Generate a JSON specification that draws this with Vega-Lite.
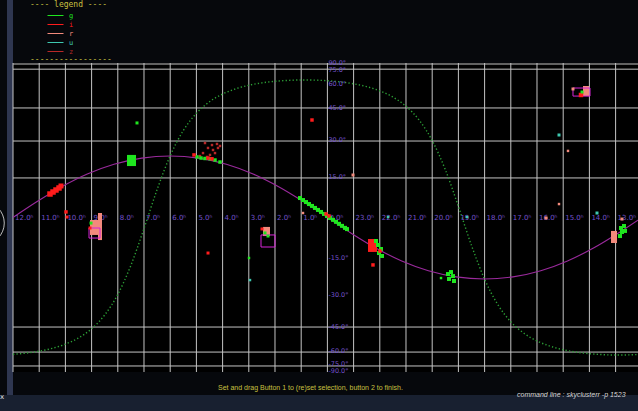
{
  "$schema": "https://vega.github.io/schema/vega-lite/v6.json",
  "width": 625,
  "height": 309,
  "autosize": {"type": "none"},
  "padding": {"left": 13, "top": 63, "right": 0, "bottom": 39},
  "background": "#06080c",
  "config": {
    "view": {"stroke": null, "fill": "#000000"},
    "legend": {
      "orient": "none", "legendX": 17, "legendY": -62,
      "titleFont": "DejaVu Sans Mono", "titleFontSize": 8, "titleColor": "#c8c040",
      "titleFontWeight": "normal", "titlePadding": 3, "padding": 0,
      "symbolType": "M-4,-0.25H4V0.25H-4Z", "symbolSize": 16, "symbolOffset": 22, "symbolStrokeWidth": 0, "symbolOpacity": 1,
      "labelOffset": 10, "labelFont": "DejaVu Sans Mono", "labelFontSize": 7, "rowPadding": 1
    }
  },
  "datasets": {
    "ecliptic": [
      {"ra": 12, "s": 0}, {"ra": 11.079, "s": 0.103}, {"ra": 10.139, "s": 0.1989}, {"ra": 9.164, "s": 0.2813},
      {"ra": 8.145, "s": 0.3445}, {"ra": 7.085, "s": 0.3842}, {"ra": 6, "s": 0.3978}, {"ra": 4.915, "s": 0.3842},
      {"ra": 3.855, "s": 0.3445}, {"ra": 2.836, "s": 0.2813}, {"ra": 1.861, "s": 0.1989}, {"ra": 0.921, "s": 0.103},
      {"ra": 0, "s": 0}, {"ra": -0.921, "s": -0.103}, {"ra": -1.861, "s": -0.1989}, {"ra": -2.836, "s": -0.2813},
      {"ra": -3.855, "s": -0.3445}, {"ra": -4.915, "s": -0.3842}, {"ra": -6, "s": -0.3978}, {"ra": -7.085, "s": -0.3842},
      {"ra": -8.145, "s": -0.3445}, {"ra": -9.164, "s": -0.2813}, {"ra": -10.139, "s": -0.1989}, {"ra": -11.079, "s": -0.103},
      {"ra": -12, "s": 0}
    ],
    "galactic": [
      {"ra": 12, "s": -0.8853}, {"ra": 11.5, "s": -0.8776}, {"ra": 11, "s": -0.8653}, {"ra": 10.5, "s": -0.8468},
      {"ra": 10, "s": -0.8196}, {"ra": 9.5, "s": -0.7796}, {"ra": 9, "s": -0.7201}, {"ra": 8.5, "s": -0.6308},
      {"ra": 8, "s": -0.498}, {"ra": 7.5, "s": -0.3097}, {"ra": 7, "s": -0.0713}, {"ra": 6.5, "s": 0.1808},
      {"ra": 6, "s": 0.3997}, {"ra": 5.5, "s": 0.5627}, {"ra": 5, "s": 0.6746}, {"ra": 4.5, "s": 0.7493},
      {"ra": 4, "s": 0.7992}, {"ra": 3.5, "s": 0.8329}, {"ra": 3, "s": 0.8558}, {"ra": 2.5, "s": 0.8713},
      {"ra": 2, "s": 0.8815}, {"ra": 1.5, "s": 0.8875}, {"ra": 1, "s": 0.89}, {"ra": 0.5, "s": 0.8893},
      {"ra": 0, "s": 0.8851}, {"ra": -0.5, "s": 0.8776}, {"ra": -1, "s": 0.8653}, {"ra": -1.5, "s": 0.8468},
      {"ra": -2, "s": 0.8196}, {"ra": -2.5, "s": 0.7796}, {"ra": -3, "s": 0.7201}, {"ra": -3.5, "s": 0.6308},
      {"ra": -4, "s": 0.498}, {"ra": -4.5, "s": 0.3097}, {"ra": -5, "s": 0.0713}, {"ra": -5.5, "s": -0.1808},
      {"ra": -6, "s": -0.3997}, {"ra": -6.5, "s": -0.5627}, {"ra": -7, "s": -0.6746}, {"ra": -7.5, "s": -0.7493},
      {"ra": -8, "s": -0.7992}, {"ra": -8.5, "s": -0.8329}, {"ra": -9, "s": -0.8558}, {"ra": -9.5, "s": -0.8713},
      {"ra": -10, "s": -0.8815}, {"ra": -10.5, "s": -0.8875}, {"ra": -11, "s": -0.89}, {"ra": -11.5, "s": -0.8893},
      {"ra": -12, "s": -0.8851}
    ],
    "ragrid": [
      {"ra": 12}, {"ra": 11}, {"ra": 10}, {"ra": 9}, {"ra": 8}, {"ra": 7}, {"ra": 6}, {"ra": 5}, {"ra": 4}, {"ra": 3}, {"ra": 2}, {"ra": 1},
      {"ra": 0}, {"ra": -1}, {"ra": -2}, {"ra": -3}, {"ra": -4}, {"ra": -5}, {"ra": -6}, {"ra": -7}, {"ra": -8}, {"ra": -9}, {"ra": -10}, {"ra": -11}
    ],
    "decgrid": [
      {"s": 0.9935}, {"s": 0.96}, {"s": 0.709}, {"s": 0.495}, {"s": 0.256}, {"s": -0.709}, {"s": -0.871}, {"s": -0.961}
    ],
    "ralabels": [
      {"ra": 12, "s": 0, "label": "12.0ʰ"}, {"ra": 11, "s": 0, "label": "11.0ʰ"}, {"ra": 10, "s": 0, "label": "10.0ʰ"},
      {"ra": 9, "s": 0, "label": "9.0ʰ"}, {"ra": 8, "s": 0, "label": "8.0ʰ"}, {"ra": 7, "s": 0, "label": "7.0ʰ"},
      {"ra": 6, "s": 0, "label": "6.0ʰ"}, {"ra": 5, "s": 0, "label": "5.0ʰ"}, {"ra": 4, "s": 0, "label": "4.0ʰ"},
      {"ra": 3, "s": 0, "label": "3.0ʰ"}, {"ra": 2, "s": 0, "label": "2.0ʰ"}, {"ra": 1, "s": 0, "label": "1.0ʰ"},
      {"ra": -1, "s": 0, "label": "23.0ʰ"}, {"ra": -2, "s": 0, "label": "22.0ʰ"}, {"ra": -3, "s": 0, "label": "21.0ʰ"},
      {"ra": -4, "s": 0, "label": "20.0ʰ"}, {"ra": -5, "s": 0, "label": "19.0ʰ"}, {"ra": -6, "s": 0, "label": "18.0ʰ"},
      {"ra": -7, "s": 0, "label": "17.0ʰ"}, {"ra": -8, "s": 0, "label": "16.0ʰ"}, {"ra": -9, "s": 0, "label": "15.0ʰ"},
      {"ra": -10, "s": 0, "label": "14.0ʰ"}, {"ra": -11, "s": 0, "label": "13.0ʰ"}, {"ra": 0, "s": 0, "label": "0.0ʰ"}
    ],
    "declabels": [
      {"ra": 0, "s": 1.0, "label": "90.0°"}, {"ra": 0, "s": 0.957, "label": "75.0°"}, {"ra": 0, "s": 0.866, "label": "60.0°"},
      {"ra": 0, "s": 0.707, "label": "45.0°"}, {"ra": 0, "s": 0.5, "label": "30.0°"}, {"ra": 0, "s": 0.259, "label": "15.0°"},
      {"ra": 0, "s": -0.259, "label": "-15.0°"}, {"ra": 0, "s": -0.5, "label": "-30.0°"}, {"ra": 0, "s": -0.707, "label": "-45.0°"},
      {"ra": 0, "s": -0.866, "label": "-60.0°"}, {"ra": 0, "s": -0.948, "label": "-75.0°"}, {"ra": 0, "s": -0.995, "label": "-90.0°"}
    ],
    "regions": [
      {"ra": 9.061, "ra2": 8.756, "s": -0.016, "s2": -0.113, "band": "r"},
      {"ra": 8.756, "ra2": 8.603, "s": 0.029, "s2": -0.146, "band": "r"},
      {"ra": 7.649, "ra2": 7.305, "s": 0.405, "s2": 0.333, "band": "g"},
      {"ra": -1.55, "ra2": -1.893, "s": -0.139, "s2": -0.223, "band": "i"},
      {"ra": 2.458, "ra2": 2.191, "s": -0.061, "s2": -0.12, "band": "r"},
      {"ra": -9.756, "ra2": -9.985, "s": 0.851, "s2": 0.786, "band": "r"},
      {"ra": -10.824, "ra2": -11.053, "s": -0.087, "s2": -0.165, "band": "r"}
    ],
    "selections": [
      {"ra": 9.099, "ra2": 8.679, "s": -0.068, "s2": -0.133},
      {"ra": 2.534, "ra2": 2.0, "s": -0.113, "s2": -0.191},
      {"ra": -9.374, "ra2": -10.023, "s": 0.838, "s2": 0.786}
    ],
    "objects": [
      {"ra": 10.588, "s": 0.152, "band": "i", "n": 30}, {"ra": 10.473, "s": 0.165, "band": "i", "n": 30},
      {"ra": 10.359, "s": 0.178, "band": "i", "n": 30}, {"ra": 10.244, "s": 0.191, "band": "i", "n": 30},
      {"ra": 10.168, "s": 0.204, "band": "i", "n": 25},
      {"ra": 9.977, "s": 0.036, "band": "i", "n": 12}, {"ra": 9.939, "s": 0.003, "band": "i", "n": 9},
      {"ra": 9.023, "s": -0.036, "band": "g", "n": 9}, {"ra": 9.061, "s": -0.068, "band": "i", "n": 9},
      {"ra": 8.679, "s": 0.016, "band": "r", "n": 9},
      {"ra": 7.267, "s": 0.612, "band": "g", "n": 9},
      {"ra": 4.672, "s": 0.482, "band": "z", "n": 6}, {"ra": 4.405, "s": 0.469, "band": "z", "n": 6},
      {"ra": 4.214, "s": 0.476, "band": "z", "n": 6}, {"ra": 4.557, "s": 0.45, "band": "z", "n": 6},
      {"ra": 4.366, "s": 0.437, "band": "z", "n": 6}, {"ra": 4.176, "s": 0.45, "band": "z", "n": 6},
      {"ra": 4.748, "s": 0.417, "band": "z", "n": 6}, {"ra": 4.481, "s": 0.405, "band": "z", "n": 6},
      {"ra": 4.29, "s": 0.417, "band": "z", "n": 6}, {"ra": 4.595, "s": 0.392, "band": "z", "n": 6},
      {"ra": 4.863, "s": 0.398, "band": "z", "n": 6}, {"ra": 4.099, "s": 0.463, "band": "z", "n": 6},
      {"ra": 4.977, "s": 0.392, "band": "g", "n": 12}, {"ra": 4.824, "s": 0.385, "band": "g", "n": 12},
      {"ra": 4.672, "s": 0.382, "band": "g", "n": 12}, {"ra": 4.481, "s": 0.38, "band": "g", "n": 12},
      {"ra": 4.29, "s": 0.372, "band": "g", "n": 12}, {"ra": 4.099, "s": 0.359, "band": "g", "n": 12},
      {"ra": 5.092, "s": 0.405, "band": "i", "n": 12}, {"ra": 4.557, "s": 0.385, "band": "i", "n": 12},
      {"ra": 4.405, "s": 0.38, "band": "i", "n": 12},
      {"ra": 0.588, "s": 0.631, "band": "i", "n": 12},
      {"ra": -0.977, "s": 0.275, "band": "r", "n": 9},
      {"ra": 1.046, "s": 0.126, "band": "g", "n": 16}, {"ra": 0.931, "s": 0.113, "band": "g", "n": 16},
      {"ra": 0.817, "s": 0.1, "band": "g", "n": 16}, {"ra": 0.702, "s": 0.087, "band": "g", "n": 16},
      {"ra": 0.588, "s": 0.075, "band": "g", "n": 16}, {"ra": 0.473, "s": 0.062, "band": "g", "n": 16},
      {"ra": 0.359, "s": 0.049, "band": "g", "n": 16}, {"ra": 0.244, "s": 0.036, "band": "g", "n": 16},
      {"ra": 0.13, "s": 0.023, "band": "g", "n": 16}, {"ra": 0.015, "s": 0.01, "band": "g", "n": 16},
      {"ra": -0.099, "s": -0.003, "band": "g", "n": 16}, {"ra": -0.214, "s": -0.015, "band": "g", "n": 16},
      {"ra": -0.328, "s": -0.028, "band": "g", "n": 16}, {"ra": -0.443, "s": -0.041, "band": "g", "n": 16},
      {"ra": -0.557, "s": -0.054, "band": "g", "n": 16}, {"ra": -0.672, "s": -0.067, "band": "g", "n": 16},
      {"ra": -0.748, "s": -0.075, "band": "g", "n": 16},
      {"ra": 0.053, "s": 0.023, "band": "i", "n": 12}, {"ra": -0.061, "s": 0.01, "band": "i", "n": 12},
      {"ra": 0.931, "s": 0.029, "band": "r", "n": 6},
      {"ra": -1.931, "s": -0.178, "band": "g", "n": 16}, {"ra": -2.046, "s": -0.204, "band": "g", "n": 16},
      {"ra": -1.969, "s": -0.23, "band": "g", "n": 16}, {"ra": -2.084, "s": -0.249, "band": "g", "n": 16},
      {"ra": -1.855, "s": -0.152, "band": "g", "n": 16}, {"ra": -2.008, "s": -0.217, "band": "i", "n": 12},
      {"ra": -1.74, "s": -0.307, "band": "i", "n": 12},
      {"ra": -4.603, "s": -0.366, "band": "g", "n": 16}, {"ra": -4.718, "s": -0.353, "band": "g", "n": 16},
      {"ra": -4.794, "s": -0.379, "band": "g", "n": 16}, {"ra": -4.641, "s": -0.398, "band": "g", "n": 16},
      {"ra": -4.832, "s": -0.411, "band": "g", "n": 16}, {"ra": -4.336, "s": -0.392, "band": "g", "n": 6},
      {"ra": 2.496, "s": -0.074, "band": "i", "n": 9}, {"ra": 2.382, "s": -0.1, "band": "g", "n": 9},
      {"ra": 2.267, "s": -0.12, "band": "g", "n": 9},
      {"ra": 4.557, "s": -0.23, "band": "i", "n": 9}, {"ra": 2.992, "s": -0.262, "band": "g", "n": 6},
      {"ra": 2.954, "s": -0.405, "band": "u", "n": 6},
      {"ra": -9.374, "s": 0.832, "band": "r", "n": 9}, {"ra": -9.679, "s": 0.793, "band": "i", "n": 20},
      {"ra": -9.718, "s": 0.812, "band": "g", "n": 9}, {"ra": -8.84, "s": 0.534, "band": "u", "n": 9},
      {"ra": -9.183, "s": 0.431, "band": "r", "n": 6}, {"ra": -8.84, "s": 0.087, "band": "r", "n": 6},
      {"ra": -10.29, "s": 0.029, "band": "u", "n": 9}, {"ra": -8.344, "s": -0.003, "band": "r", "n": 9},
      {"ra": -11.244, "s": -0.01, "band": "r", "n": 9}, {"ra": -2.313, "s": 0.003, "band": "u", "n": 6},
      {"ra": -5.328, "s": 0.003, "band": "u", "n": 6},
      {"ra": -11.206, "s": -0.068, "band": "g", "n": 16}, {"ra": -11.321, "s": -0.055, "band": "g", "n": 16},
      {"ra": -11.244, "s": -0.094, "band": "g", "n": 16}, {"ra": -11.359, "s": -0.087, "band": "g", "n": 16},
      {"ra": -11.168, "s": -0.12, "band": "g", "n": 16}
    ]
  },
  "layer": [
    {
      "data": {"values": [{"ra": 12.23, "ra2": 12.0, "s": 1.41, "s2": -1.26}]},
      "mark": {"type": "rect", "color": "#2e3650", "clip": false},
      "encoding": {
        "x": {"field": "ra", "type": "quantitative", "scale": {"domain": [12, -11.855], "nice": false, "zero": false}, "axis": null},
        "x2": {"field": "ra2"},
        "y": {"field": "s", "type": "quantitative", "scale": {"domain": [-1, 1], "nice": false, "zero": false}, "axis": null},
        "y2": {"field": "s2"}
      }
    },
    {
      "data": {"values": [{"ra": 12.6, "ra2": -12.2, "s": -1.149, "s2": -1.27}]},
      "mark": {"type": "rect", "color": "#182030", "clip": false},
      "encoding": {
        "x": {"field": "ra", "type": "quantitative", "scale": {"domain": [12, -11.855], "nice": false, "zero": false}, "axis": null},
        "x2": {"field": "ra2"},
        "y": {"field": "s", "type": "quantitative", "scale": {"domain": [-1, 1], "nice": false, "zero": false}, "axis": null},
        "y2": {"field": "s2"}
      }
    },
    {
      "data": {"name": "ragrid"},
      "mark": {"type": "rule", "color": "#c4c4c4", "strokeWidth": 1},
      "encoding": {
        "x": {"field": "ra", "type": "quantitative", "scale": {"domain": [12, -11.855], "nice": false, "zero": false}, "axis": null}
      }
    },
    {
      "data": {"name": "decgrid"},
      "mark": {"type": "rule", "color": "#c4c4c4", "strokeWidth": 1},
      "encoding": {
        "y": {"field": "s", "type": "quantitative", "scale": {"domain": [-1, 1], "nice": false, "zero": false}, "axis": null}
      }
    },
    {
      "data": {"name": "galactic"},
      "mark": {"type": "line", "color": "#2c9e36", "strokeWidth": 1.4, "strokeDash": [1.3, 2.2], "clip": true, "interpolate": "monotone"},
      "encoding": {
        "x": {"field": "ra", "type": "quantitative", "scale": {"domain": [12, -11.855], "nice": false, "zero": false}, "axis": null},
        "y": {"field": "s", "type": "quantitative", "scale": {"domain": [-1, 1], "nice": false, "zero": false}, "axis": null}
      }
    },
    {
      "data": {"name": "ecliptic"},
      "mark": {"type": "line", "color": "#9a2a9c", "strokeWidth": 1.1, "clip": true, "interpolate": "monotone"},
      "encoding": {
        "x": {"field": "ra", "type": "quantitative", "scale": {"domain": [12, -11.855], "nice": false, "zero": false}, "axis": null},
        "y": {"field": "s", "type": "quantitative", "scale": {"domain": [-1, 1], "nice": false, "zero": false}, "axis": null}
      }
    },
    {
      "data": {"name": "ralabels"},
      "mark": {"type": "text", "align": "left", "baseline": "middle", "dx": 2, "font": "DejaVu Sans", "fontSize": 7, "color": "#7352cc"},
      "encoding": {
        "x": {"field": "ra", "type": "quantitative", "scale": {"domain": [12, -11.855], "nice": false, "zero": false}, "axis": null},
        "y": {"field": "s", "type": "quantitative", "scale": {"domain": [-1, 1], "nice": false, "zero": false}, "axis": null},
        "text": {"field": "label"}
      }
    },
    {
      "data": {"name": "declabels"},
      "mark": {"type": "text", "align": "left", "baseline": "middle", "dx": 1, "font": "DejaVu Sans", "fontSize": 6.5, "color": "#7352cc"},
      "encoding": {
        "x": {"field": "ra", "type": "quantitative", "scale": {"domain": [12, -11.855], "nice": false, "zero": false}, "axis": null},
        "y": {"field": "s", "type": "quantitative", "scale": {"domain": [-1, 1], "nice": false, "zero": false}, "axis": null},
        "text": {"field": "label"}
      }
    },
    {
      "data": {"name": "regions"},
      "mark": {"type": "rect", "opacity": 1},
      "encoding": {
        "x": {"field": "ra", "type": "quantitative", "scale": {"domain": [12, -11.855], "nice": false, "zero": false}, "axis": null},
        "x2": {"field": "ra2"},
        "y": {"field": "s", "type": "quantitative", "scale": {"domain": [-1, 1], "nice": false, "zero": false}, "axis": null},
        "y2": {"field": "s2"},
        "color": {"field": "band", "type": "nominal", "title": "---- legend ----", "scale": {"domain": ["g", "i", "r", "u", "z"], "range": ["#1fe61f", "#ff1c1c", "#f28a7c", "#3ec8b0", "#b82828"]}}
      }
    },
    {
      "data": {"name": "selections"},
      "mark": {"type": "rect", "fill": null, "fillOpacity": 0, "stroke": "#d624d6", "strokeWidth": 1},
      "encoding": {
        "x": {"field": "ra", "type": "quantitative", "scale": {"domain": [12, -11.855], "nice": false, "zero": false}, "axis": null},
        "x2": {"field": "ra2"},
        "y": {"field": "s", "type": "quantitative", "scale": {"domain": [-1, 1], "nice": false, "zero": false}, "axis": null},
        "y2": {"field": "s2"}
      }
    },
    {
      "data": {"name": "objects"},
      "mark": {"type": "point", "shape": "square", "filled": true, "opacity": 1, "strokeWidth": 0},
      "encoding": {
        "x": {"field": "ra", "type": "quantitative", "scale": {"domain": [12, -11.855], "nice": false, "zero": false}, "axis": null},
        "y": {"field": "s", "type": "quantitative", "scale": {"domain": [-1, 1], "nice": false, "zero": false}, "axis": null},
        "size": {"field": "n", "type": "quantitative", "scale": {"type": "linear", "domain": [0, 100], "range": [0, 100]}, "legend": null},
        "color": {
          "field": "band", "type": "nominal", "title": "---- legend ----",
          "scale": {"domain": ["g", "i", "r", "u", "z"], "range": ["#1fe61f", "#ff1c1c", "#f28a7c", "#3ec8b0", "#b82828"]},
          "legend": {
            "encode": {"labels": {"update": {"fill": {"scale": "color", "field": "value"}}}}
          }
        }
      }
    },
    {
      "data": {"values": [{"ra": 11.351, "s": 1.022, "label": "-----------------"}]},
      "mark": {"type": "text", "align": "left", "baseline": "middle", "font": "DejaVu Sans Mono", "fontSize": 8, "color": "#c8c040"},
      "encoding": {
        "x": {"field": "ra", "type": "quantitative", "scale": {"domain": [12, -11.855], "nice": false, "zero": false}, "axis": null},
        "y": {"field": "s", "type": "quantitative", "scale": {"domain": [-1, 1], "nice": false, "zero": false}, "axis": null},
        "text": {"field": "label"}
      }
    },
    {
      "data": {"values": [{"ra": 4.176, "s": -1.104, "label": "Set and drag Button 1 to (re)set selection, button 2 to finish."}]},
      "mark": {"type": "text", "align": "left", "baseline": "middle", "font": "Liberation Sans", "fontSize": 7, "color": "#c8c040"},
      "encoding": {
        "x": {"field": "ra", "type": "quantitative", "scale": {"domain": [12, -11.855], "nice": false, "zero": false}, "axis": null},
        "y": {"field": "s", "type": "quantitative", "scale": {"domain": [-1, 1], "nice": false, "zero": false}, "axis": null},
        "text": {"field": "label"}
      }
    },
    {
      "data": {"values": [{"ra": -7.237, "s": -1.149, "label": "command line : skyclusterr -p 1523"}]},
      "mark": {"type": "text", "align": "left", "baseline": "middle", "font": "Liberation Sans", "fontSize": 7, "fontStyle": "italic", "color": "#d8d8d8"},
      "encoding": {
        "x": {"field": "ra", "type": "quantitative", "scale": {"domain": [12, -11.855], "nice": false, "zero": false}, "axis": null},
        "y": {"field": "s", "type": "quantitative", "scale": {"domain": [-1, 1], "nice": false, "zero": false}, "axis": null},
        "text": {"field": "label"}
      }
    },
    {
      "data": {"values": [{"ra": 12.42, "s": -1.162, "label": "x"}]},
      "mark": {"type": "text", "align": "center", "baseline": "middle", "font": "DejaVu Sans", "fontSize": 7, "color": "#e0e0e0"},
      "encoding": {
        "x": {"field": "ra", "type": "quantitative", "scale": {"domain": [12, -11.855], "nice": false, "zero": false}, "axis": null},
        "y": {"field": "s", "type": "quantitative", "scale": {"domain": [-1, 1], "nice": false, "zero": false}, "axis": null},
        "text": {"field": "label"}
      }
    },
    {
      "data": {"values": [{"ra": 13.145, "s": -0.036}]},
      "mark": {"type": "point", "shape": "circle", "filled": false, "size": 1810, "stroke": "#bdbdbd", "strokeWidth": 1, "opacity": 1},
      "encoding": {
        "x": {"field": "ra", "type": "quantitative", "scale": {"domain": [12, -11.855], "nice": false, "zero": false}, "axis": null},
        "y": {"field": "s", "type": "quantitative", "scale": {"domain": [-1, 1], "nice": false, "zero": false}, "axis": null}
      }
    }
  ]
}
